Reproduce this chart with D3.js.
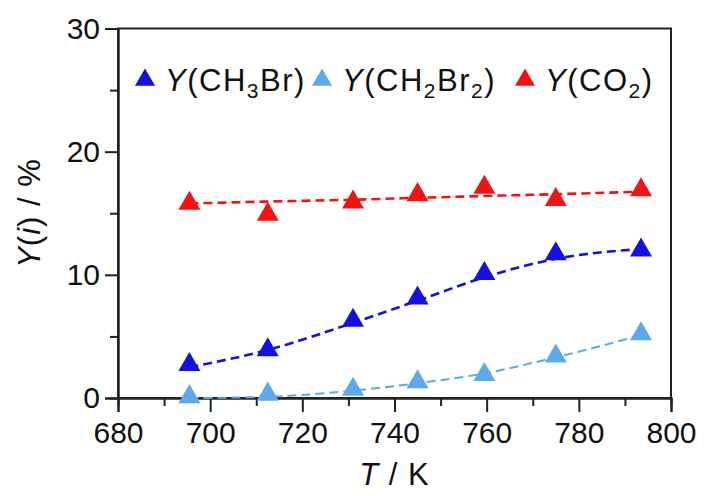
<!DOCTYPE html>
<html>
<head>
<meta charset="utf-8">
<script src="https://cdn.jsdelivr.net/npm/d3@7"></script>
<style>
  body { margin: 0; background: #fff; }
  text { font-family: "Liberation Sans", Arial, sans-serif; fill: #111; }
</style>
</head>
<body>
<div id="chart"></div>
<script>
// temperatures (K) and yields (%)
var temps = [695.5, 712.5, 731, 745, 759.5, 775, 793.5];
var yCH3Br = [2.7, 3.9, 6.3, 8.1, 10.1, 11.7, 12.0];
var yCH2Br2 = [0.1, 0.3, 0.7, 1.3, 1.9, 3.4, 5.2];
var yCO2 = [15.8, 14.9, 15.9, 16.5, 17.1, 16.1, 16.9];
// dashed guide curves
var fitCH3Br = [2.5, 3.9, 6.1, 7.9, 9.8, 11.3, 12.1];
var fitCH2Br2 = [0.0, 0.1, 0.6, 1.2, 2.0, 3.3, 5.1];
var fitCO2 = [15.8, 15.95, 16.1, 16.25, 16.4, 16.55, 16.75];
var xTicks = [680, 700, 720, 740, 760, 780, 800];
var yTicks = [0, 10, 20, 30];

var width = 704, height = 496;
var marge = {top: 28.5, left: 118, right: 33, bottom: 98};
var w = width - marge.left - marge.right;
var h = height - marge.top - marge.bottom;

var svg = d3.select("#chart").append("svg")
  .attr("width", width)
  .attr("height", height);

var g = svg.append("g")
  .attr("transform", "translate(" + marge.left + "," + marge.top + ")");

var x = d3.scaleLinear().domain([680, 800]).range([0, w]);
var y = d3.scaleLinear().domain([0, 30]).range([h, 0]);

var series = [
  {vals: yCH3Br, fit: fitCH3Br, color: "#1212dc", lw: 2.6},
  {vals: yCH2Br2, fit: fitCH2Br2, color: "#5da9ec", lw: 2},
  {vals: yCO2, fit: fitCO2, color: "#f21414", lw: 2.6}
];

// frame
g.append("rect")
  .attr("width", w).attr("height", h)
  .attr("fill", "none").attr("stroke", "#222").attr("stroke-width", 2);

// axes
g.append("g").attr("transform", "translate(0," + h + ")")
  .call(d3.axisBottom(x).tickValues(xTicks).tickSize(14).tickPadding(10).tickFormat(d3.format("d")));
g.append("g").attr("transform", "translate(0," + h + ")")
  .call(d3.axisBottom(x).tickValues(d3.range(690, 800, 20)).tickSize(8).tickFormat(""));
g.append("g")
  .call(d3.axisLeft(y).tickValues(yTicks).tickSize(13).tickPadding(5));
g.append("g")
  .call(d3.axisLeft(y).tickValues([5, 15, 25]).tickSize(8).tickFormat(""));

g.selectAll(".domain").attr("stroke", "#222").attr("stroke-width", 2);
g.selectAll(".tick line").attr("stroke", "#222").attr("stroke-width", 2);
g.selectAll(".tick text").attr("font-size", 30).attr("fill", "#111")
  .attr("font-family", "Liberation Sans, Arial, sans-serif");

// dashed curves
series.forEach(function(s){
  var line = d3.line()
    .x(function(d, i){ return x(temps[i]); })
    .y(function(d){ return y(d); })
    .curve(d3.curveMonotoneX);
  g.append("path")
    .datum(s.fit)
    .attr("d", line)
    .attr("fill", "none")
    .attr("stroke", s.color)
    .attr("stroke-width", s.lw)
    .attr("stroke-dasharray", "9,5");
});

// markers
var tri = d3.symbol().type(d3.symbolTriangle).size(210);
series.forEach(function(s){
  g.selectAll(null)
    .data(s.vals)
    .enter()
    .append("path")
    .attr("d", tri)
    .attr("transform", function(d, i){
      return "translate(" + x(temps[i]) + "," + y(d) + ")";
    })
    .attr("fill", s.color);
});

// axis titles
var xt = svg.append("text")
  .attr("x", marge.left + w / 2).attr("y", 485)
  .attr("text-anchor", "middle").attr("font-size", 31)
  .attr("letter-spacing", 1);
xt.append("tspan").attr("font-style", "italic").text("T");
xt.append("tspan").text(" / K");

var yt = svg.append("text")
  .attr("transform", "translate(40,213) rotate(-90)")
  .attr("text-anchor", "middle").attr("font-size", 31)
  .attr("letter-spacing", 1);
yt.append("tspan").attr("font-style", "italic").text("Y");
yt.append("tspan").text("(");
yt.append("tspan").attr("font-style", "italic").text("i");
yt.append("tspan").text(") / %");

// legend
var legend = [
  {x: 145, parts: [["CH", 0], ["3", 1], ["Br", 0]], color: series[0].color},
  {x: 322, parts: [["CH", 0], ["2", 1], ["Br", 0], ["2", 1]], color: series[1].color},
  {x: 525, parts: [["CO", 0], ["2", 1]], color: series[2].color}
];
var legTri = d3.symbol().type(d3.symbolTriangle).size(175);
legend.forEach(function(l){
  svg.append("path").attr("d", legTri)
    .attr("transform", "translate(" + l.x + ",80)")
    .attr("fill", l.color);
  var t = svg.append("text").attr("x", l.x + 20).attr("y", 91)
    .attr("font-size", 31).attr("letter-spacing", 1.5);
  t.append("tspan").attr("font-style", "italic").text("Y");
  t.append("tspan").text("(");
  var sub = false;
  l.parts.forEach(function(p){
    var ts = t.append("tspan").text(p[0]);
    if (p[1]) { ts.attr("font-size", 21).attr("dy", 7); sub = true; }
    else if (sub) { ts.attr("dy", -7); sub = false; }
  });
  var close = t.append("tspan").text(")");
  if (sub) close.attr("dy", -7);
});
</script>
</body>
</html>
